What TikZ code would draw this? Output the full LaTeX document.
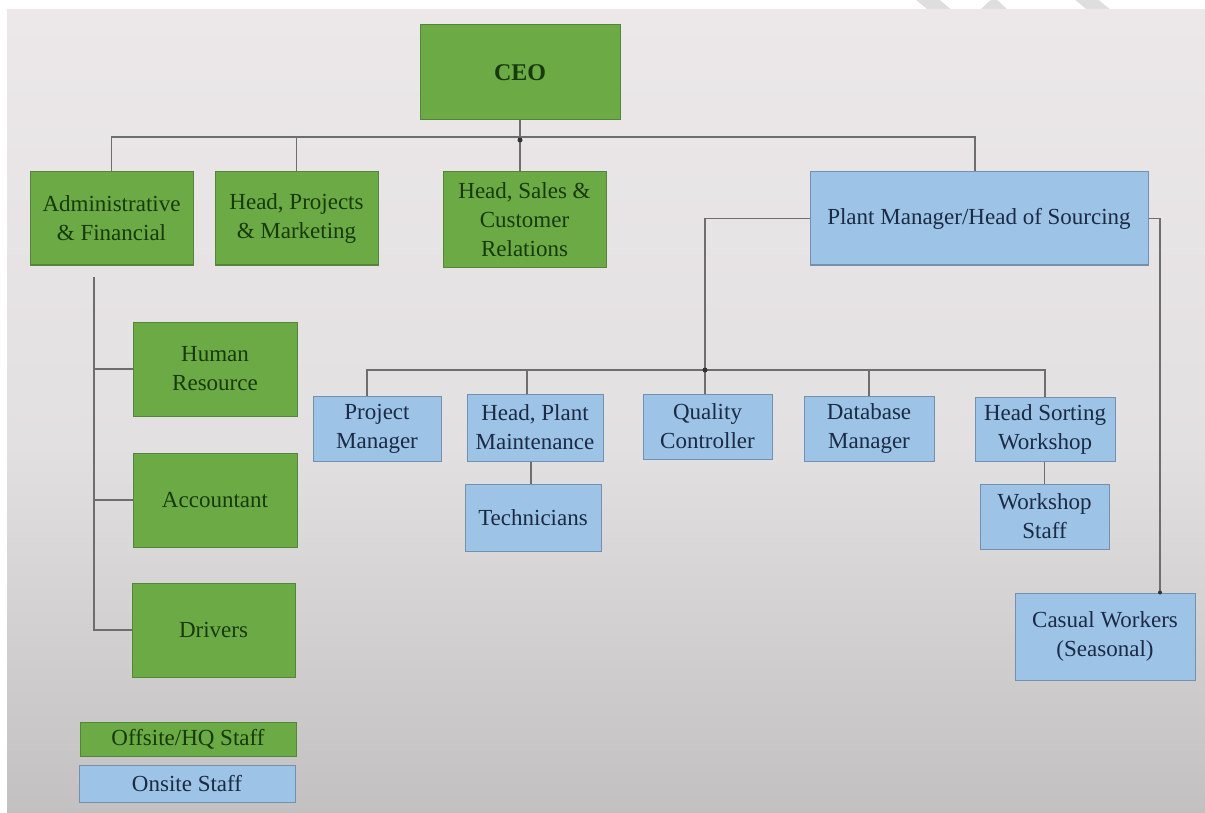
\documentclass[tikz,border=0pt]{standalone}
\usepackage{fontspec}
\setmainfont{Liberation Serif}
% colours of the chart
\definecolor{paneltop}{HTML}{ECE8E9}
\definecolor{panelmid}{HTML}{E3E0E1}
\definecolor{panelbot}{HTML}{C3C0C1}
\definecolor{grfill}{HTML}{6BAA45}
\definecolor{grline}{HTML}{55853A}
\definecolor{grtext}{HTML}{183A0B}
\definecolor{blfill}{HTML}{9DC3E6}
\definecolor{blline}{HTML}{7390AE}
\definecolor{bltext}{HTML}{1B2A45}
\definecolor{wirec}{HTML}{6E6E6E}
\definecolor{wmgray}{HTML}{DEDEDE}
\pgfdeclareverticalshading{panelshade}{100bp}{color(0bp)=(panelbot); color(25bp)=(panelbot); color(48bp)=(panelmid); color(75bp)=(paneltop); color(100bp)=(paneltop)}
\begin{document}
\begin{tikzpicture}[x=1pt,y=-1pt,
  box/.style={draw, line width=1pt, inner sep=0pt, align=center,
    font=\fontsize{23}{29}\selectfont},
  gbox/.style={box, fill=grfill, draw=grline, text=grtext},
  bbox/.style={box, fill=blfill, draw=blline, text=bltext},
  wire/.style={draw=wirec, line width=1.8pt},
  jdot/.style={circle, fill=black!80, inner sep=0pt, minimum size=5pt},
  wmark/.style={draw=wmgray, line width=15pt, line join=round}]
\useasboundingbox (0,0) rectangle (1205,813);
\fill[white] (0,0) rectangle (1205,813);
% strokes peeking out above the panel
\draw[wmark] (904,-20) -- (964,30);
\draw[wmark] (955,45) -- (994,7) -- (1033,45);
\draw[wmark] (1063,-20) -- (1123,30);
% background panel
\fill[shading=panelshade] (7,10) rectangle (1205,813);

% boxes
\node[gbox, minimum width=200, minimum height=95] (ceo) at (520,72.5) {\fontsize{24}{29}\selectfont\textbf{CEO}};
\node[gbox, minimum width=163, minimum height=93] (adm) at (111.5,218.5) {Administrative\\\& Financial};
\node[gbox, minimum width=163, minimum height=93] (hpm) at (296.5,218.5) {Head, Projects\\\& Marketing};
\node[gbox, minimum width=163, minimum height=95] (hsc) at (524.5,219.5) {Head, Sales \&\\Customer\\Relations};
\node[bbox, minimum width=338, minimum height=93] (pm) at (979,218.5) {Plant Manager/Head of Sourcing};

\node[gbox, minimum width=164, minimum height=94] (hr) at (215,369) {Human\\Resource};
\node[gbox, minimum width=164, minimum height=94] (acc) at (215,500) {Accountant};
\node[gbox, minimum width=163, minimum height=94] (drv) at (213.5,630) {Drivers};

\node[bbox, minimum width=128, minimum height=65] (prj) at (377,428.5) {Project\\Manager};
\node[bbox, minimum width=136, minimum height=67] (hpl) at (535,427.5) {Head, Plant\\Maintenance};
\node[bbox, minimum width=129, minimum height=65] (qc) at (707.5,426.5) {Quality\\Controller};
\node[bbox, minimum width=130, minimum height=65] (db) at (869,428.5) {Database\\Manager};
\node[bbox, minimum width=140, minimum height=64] (hsw) at (1045,429) {Head Sorting\\Workshop};
\node[bbox, minimum width=136, minimum height=67] (tec) at (533,517.5) {Technicians};
\node[bbox, minimum width=129, minimum height=65] (wks) at (1044.5,516.5) {Workshop\\Staff};
\node[bbox, minimum width=180, minimum height=87] (cas) at (1105,636.5) {Casual Workers\\(Seasonal)};

% key
\node[gbox, minimum width=216, minimum height=34] (keyhq) at (188,739) {Offsite/HQ Staff};
\node[bbox, minimum width=216, minimum height=37] (keyon) at (187,783.5) {Onsite Staff};

% top level connectors
\coordinate (busa) at (0,137);
\coordinate (pmin) at ([xshift=-4pt]pm.north);
\draw[wire] (adm.north) -- (adm.north |- busa) -- (pmin |- busa) -- (pmin);
\draw[wire] (hpm.north) -- (hpm.north |- busa);
\draw[wire] (ceo.south) -- (ceo.south |- hsc.north);
\node[jdot] (ja) at ([yshift=-3pt]ceo.south |- busa) {};

% administrative branch
\coordinate (admdrop) at (94,277);
\draw[wire] (admdrop) -- (admdrop |- drv.west) -- (drv.west);
\draw[wire] (admdrop |- hr.west) -- (hr.west);
\draw[wire] (admdrop |- acc.west) -- (acc.west);

% plant branch
\coordinate (busb) at (0,370);
\coordinate (prjin) at ([xshift=-10pt]prj.north);
\coordinate (hplin) at ([xshift=-8pt]hpl.north);
\coordinate (qcin) at ([xshift=-2.5pt]qc.north);
\draw[wire] (pm.west) -- (pm.west -| qcin) -- (qcin);
\draw[wire] (prjin) -- (prjin |- busb) -- (hsw.north |- busb) -- (hsw.north);
\draw[wire] (hplin) -- (hplin |- busb);
\draw[wire] (db.north) -- (db.north |- busb);
\node[jdot] (jb) at (qcin |- busb) {};
\draw[wire] ([xshift=-2pt]tec.north) -- ([xshift=-2pt]tec.north |- hpl.south);
\draw[wire] (wks.north) -- (wks.north |- hsw.south);

% seasonal workers
\coordinate (casin) at ([xshift=55pt]cas.north);
\draw[wire] (pm.east) -- (pm.east -| casin) -- (casin);
\node[jdot, minimum size=4pt] (jc) at (casin) {};
\end{tikzpicture}
\end{document}
